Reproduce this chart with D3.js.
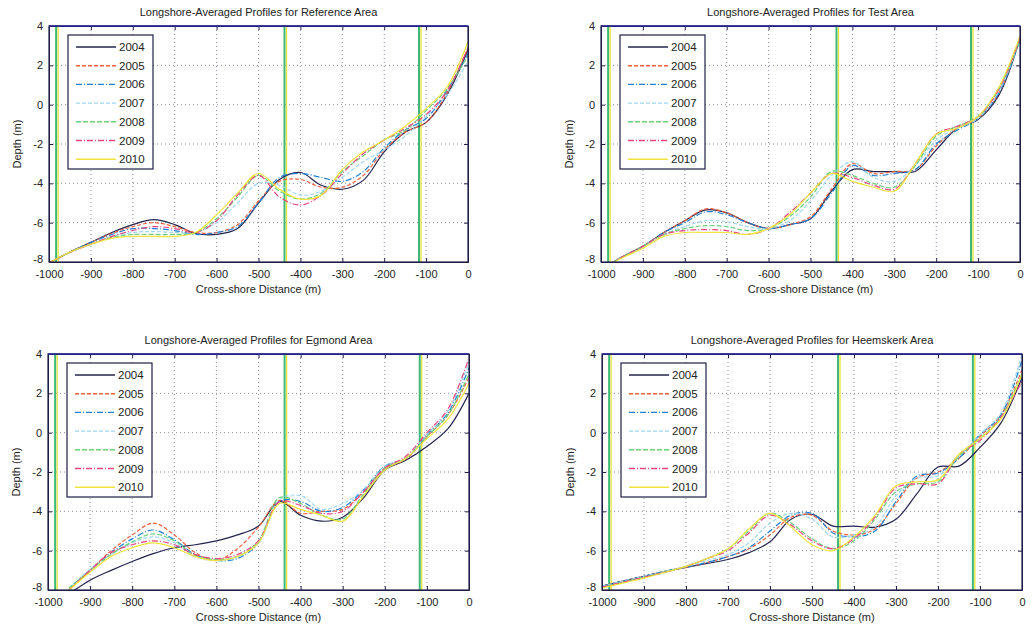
<!DOCTYPE html>
<html>
<head>
<meta charset="utf-8">
<script src="https://cdn.jsdelivr.net/npm/d3@7"></script>
<style>
body { margin: 0; background: #fff; }
text { font-family: "Liberation Sans", Arial, sans-serif; fill: #222; }
</style>
</head>
<body>
<div id="chart"></div>
<script>
// cross-shore positions (m) shared by every profile
var distance = [-1000,-950,-900,-850,-800,-750,-700,-650,-600,-550,-500,-450,-400,-350,-300,-250,-200,-150,-100,-50,0];
var years = ['2004','2005','2006','2007','2008','2009','2010'];

// one row per year, depth (m) at each distance
var reference = [
	[-8.05,-7.5,-7.0,-6.5,-6.1,-5.85,-6.1,-6.55,-6.6,-6.3,-5.0,-3.8,-3.45,-4.1,-4.3,-3.85,-2.4,-1.4,-0.9,0.5,2.8],
	[-8.05,-7.5,-7.0,-6.55,-6.2,-6.0,-6.2,-6.5,-6.5,-6.1,-4.9,-3.9,-3.8,-4.2,-4.2,-3.6,-2.3,-1.4,-0.9,0.6,2.9],
	[-8.05,-7.5,-7.0,-6.6,-6.3,-6.3,-6.4,-6.6,-6.5,-6.2,-5.0,-3.7,-3.5,-3.7,-3.9,-3.4,-2.2,-1.3,-0.7,0.7,2.6],
	[-8.05,-7.5,-7.1,-6.7,-6.5,-6.45,-6.5,-6.5,-6.0,-5.0,-4.0,-4.1,-4.6,-4.4,-3.7,-2.9,-2.3,-1.6,-0.6,0.5,2.2],
	[-8.05,-7.5,-7.1,-6.75,-6.6,-6.6,-6.6,-6.5,-5.8,-4.7,-3.6,-4.4,-4.8,-4.5,-3.4,-2.6,-1.8,-1.3,-0.3,0.8,2.5],
	[-8.05,-7.5,-7.1,-6.7,-6.4,-6.2,-6.3,-6.5,-5.9,-4.6,-3.6,-4.7,-5.1,-4.6,-3.5,-2.5,-1.8,-1.2,-0.5,0.7,2.9],
	[-8.05,-7.5,-7.1,-6.8,-6.7,-6.7,-6.7,-6.5,-5.6,-4.5,-3.5,-4.3,-4.8,-4.6,-3.3,-2.4,-1.8,-1.1,-0.2,0.9,3.2]
];
var test = [
	[-8.4,-7.75,-7.2,-6.5,-5.9,-5.35,-5.5,-6.0,-6.3,-6.1,-5.8,-4.4,-3.3,-3.4,-3.4,-3.4,-2.3,-1.2,-0.75,0.5,3.4],
	[-8.4,-7.75,-7.2,-6.5,-5.9,-5.3,-5.5,-6.0,-6.3,-6.1,-5.7,-4.3,-3.0,-3.5,-3.4,-3.3,-2.1,-1.2,-0.7,0.6,3.4],
	[-8.4,-7.75,-7.2,-6.5,-6.0,-5.45,-5.6,-6.0,-6.3,-6.1,-5.8,-4.5,-3.1,-3.6,-3.5,-3.3,-2.0,-1.3,-0.7,0.6,3.3],
	[-8.4,-7.75,-7.2,-6.6,-6.2,-5.9,-5.95,-6.2,-6.3,-5.9,-4.9,-3.6,-2.9,-3.7,-3.9,-3.1,-1.8,-1.2,-0.7,0.7,3.3],
	[-8.4,-7.75,-7.2,-6.6,-6.3,-6.15,-6.2,-6.4,-6.3,-5.7,-4.7,-3.4,-3.6,-4.0,-4.2,-3.1,-1.6,-1.1,-0.6,0.8,3.3],
	[-8.4,-7.75,-7.2,-6.6,-6.4,-6.35,-6.4,-6.6,-6.3,-5.5,-4.5,-3.5,-3.7,-4.1,-4.3,-3.0,-1.5,-1.1,-0.6,0.8,3.4],
	[-8.4,-7.8,-7.3,-6.7,-6.5,-6.5,-6.5,-6.6,-6.3,-5.6,-4.5,-3.5,-3.9,-4.2,-4.4,-3.0,-1.5,-1.2,-0.6,0.9,3.5]
];
var egmond = [
	[null,-8.2,-7.5,-7.0,-6.55,-6.15,-5.85,-5.7,-5.5,-5.2,-4.75,-3.5,-4.2,-4.5,-4.3,-3.3,-1.9,-1.4,-0.7,0.2,2.0],
	[null,-8.0,-7.0,-6.0,-5.2,-4.6,-5.2,-6.1,-6.5,-5.9,-4.8,-3.45,-4.1,-4.0,-3.9,-3.0,-1.8,-1.35,-0.2,0.9,2.8],
	[null,-8.0,-7.0,-6.1,-5.4,-4.95,-5.45,-6.2,-6.5,-6.4,-5.6,-3.5,-3.5,-4.0,-3.8,-2.9,-1.7,-1.3,-0.1,1.0,3.3],
	[null,-7.9,-6.95,-6.2,-5.6,-5.3,-5.6,-6.3,-6.5,-6.3,-5.6,-3.4,-3.2,-3.9,-3.6,-2.9,-1.7,-1.3,-0.1,1.1,3.6],
	[null,-7.9,-7.0,-6.2,-5.55,-5.15,-5.5,-6.25,-6.45,-6.3,-5.5,-3.3,-3.6,-4.2,-4.4,-3.1,-1.8,-1.3,-0.2,0.9,3.0],
	[null,-8.0,-7.0,-6.1,-5.7,-5.5,-5.7,-6.2,-6.4,-6.2,-5.5,-3.5,-3.7,-4.1,-4.0,-3.0,-1.8,-1.2,0.0,1.2,3.8],
	[null,-8.0,-7.1,-6.3,-5.85,-5.6,-5.85,-6.3,-6.5,-6.3,-5.6,-3.6,-3.9,-4.2,-4.5,-3.2,-1.9,-1.3,-0.3,0.7,2.5]
];
var heemskerk = [
	[-7.8,-7.55,-7.3,-7.05,-6.85,-6.65,-6.45,-6.1,-5.55,-4.4,-4.15,-4.75,-4.75,-4.8,-4.4,-3.1,-1.75,-1.7,-0.75,0.5,2.8],
	[-7.8,-7.55,-7.3,-7.05,-6.85,-6.6,-6.3,-5.9,-5.2,-4.3,-4.2,-5.0,-5.2,-4.9,-3.6,-2.3,-2.0,-1.3,-0.2,0.9,3.2],
	[-7.8,-7.55,-7.3,-7.05,-6.85,-6.6,-6.3,-5.85,-5.0,-4.2,-4.1,-5.1,-5.3,-5.0,-3.5,-2.2,-2.05,-1.3,-0.1,0.9,3.7],
	[-7.8,-7.55,-7.3,-7.05,-6.8,-6.5,-6.2,-5.6,-4.6,-4.1,-4.4,-5.3,-5.2,-4.8,-3.2,-2.3,-2.2,-1.2,-0.1,1.0,4.0],
	[-7.85,-7.6,-7.35,-7.1,-6.8,-6.4,-5.9,-5.0,-4.1,-4.6,-5.4,-5.9,-5.5,-4.4,-3.0,-2.6,-2.5,-1.2,-0.3,0.8,3.0],
	[-7.85,-7.6,-7.35,-7.1,-6.8,-6.4,-6.0,-5.1,-4.2,-4.7,-5.5,-5.9,-5.4,-4.3,-2.8,-2.6,-2.6,-1.1,-0.4,0.8,2.6],
	[-7.9,-7.65,-7.4,-7.1,-6.8,-6.4,-5.9,-4.9,-4.1,-4.8,-5.7,-6.0,-5.3,-4.2,-2.7,-2.5,-2.4,-1.1,-0.3,0.7,3.0]
];

var boundaries = [-983, -438, -117];
var xTicks = d3.range(-1000, 1, 100);
var yTicks = [-8, -6, -4, -2, 0, 2, 4];

var colors = ['#23234f','#f0603c','#1c7fd2','#9fd6ee','#6ccf7a','#e8457f','#f0e43a'];
var dashes = ['none','4,2','6,2,1,2','4,2','5,2','6,2,1,2','none'];

var panels = [
	{title: 'Longshore-Averaged Profiles for Reference Area', rows: reference, left: 49, top: 26, w: 419, h: 236},
	{title: 'Longshore-Averaged Profiles for Test Area', rows: test, left: 601, top: 26, w: 419, h: 236},
	{title: 'Longshore-Averaged Profiles for Egmond Area', rows: egmond, left: 48, top: 354, w: 421, h: 236},
	{title: 'Longshore-Averaged Profiles for Heemskerk Area', rows: heemskerk, left: 602, top: 354, w: 420, h: 236}
];

// plain hyphen minus like the original figure
var plain = function(d) { return String(d); };

var svg = d3.select('#chart').append('svg')
	.attr('width', 1033)
	.attr('height', 629)
	.style('background', '#fff');

panels.forEach(function(p, k) {
	var x = d3.scaleLinear().domain([-1000, 0]).range([0, p.w]);
	var y = d3.scaleLinear().domain([-8, 4]).range([p.h, 0]);

	var g = svg.append('g')
		.attr('transform', 'translate(' + p.left + ',' + p.top + ')');

	g.append('clipPath').attr('id', 'clip' + k)
		.append('rect').attr('width', p.w).attr('height', p.h);

	// dotted grid
	g.append('g').selectAll('line').data(xTicks.slice(1, -1))
		.enter().append('line')
		.attr('x1', function(d) { return x(d); })
		.attr('x2', function(d) { return x(d); })
		.attr('y1', 0).attr('y2', p.h)
		.attr('stroke', '#8c90a8').attr('stroke-width', 1)
		.attr('stroke-dasharray', '1,3');
	g.append('g').selectAll('line').data(yTicks.slice(1, -1))
		.enter().append('line')
		.attr('y1', function(d) { return y(d); })
		.attr('y2', function(d) { return y(d); })
		.attr('x1', 0).attr('x2', p.w)
		.attr('stroke', '#8c90a8').attr('stroke-width', 1)
		.attr('stroke-dasharray', '1,3');

	// boundary lines
	var bl = g.append('g');
	bl.selectAll('.gr').data(boundaries).enter().append('line')
		.attr('x1', function(d) { return x(d); })
		.attr('x2', function(d) { return x(d); })
		.attr('y1', 0).attr('y2', p.h)
		.attr('stroke', '#3cb878').attr('stroke-width', 2);
	bl.selectAll('.ye').data(boundaries).enter().append('line')
		.attr('x1', function(d) { return x(d) + 2; })
		.attr('x2', function(d) { return x(d) + 2; })
		.attr('y1', 0).attr('y2', p.h)
		.attr('stroke', '#e8e23a').attr('stroke-width', 1.3);

	var line = d3.line()
		.defined(function(d) { return d[1] != null; })
		.x(function(d) { return x(d[0]); })
		.y(function(d) { return y(d[1]); })
		.curve(d3.curveCatmullRom);

	g.append('g').attr('clip-path', 'url(#clip' + k + ')')
		.selectAll('path').data(p.rows)
		.enter().append('path')
		.attr('d', function(row) {
			return line(row.map(function(v, i) { return [distance[i], v]; }));
		})
		.attr('fill', 'none')
		.attr('stroke', function(d, i) { return colors[i]; })
		.attr('stroke-width', 1.2)
		.attr('stroke-dasharray', function(d, i) { return dashes[i]; });

	// axes, ticks inward on all four sides
	var xb = d3.axisBottom(x).tickValues(xTicks).tickFormat(plain).tickSizeInner(-4).tickSizeOuter(0).tickPadding(8);
	var yl = d3.axisLeft(y).tickValues(yTicks).tickFormat(plain).tickSizeInner(-4).tickSizeOuter(0).tickPadding(6);
	var xt = d3.axisTop(x).tickValues(xTicks).tickSizeInner(-4).tickSizeOuter(0).tickFormat('');
	var yr = d3.axisRight(y).tickValues(yTicks).tickSizeInner(-4).tickSizeOuter(0).tickFormat('');

	var axes = [
		g.append('g').attr('transform', 'translate(0,' + p.h + ')').call(xb),
		g.append('g').call(yl),
		g.append('g').call(xt),
		g.append('g').attr('transform', 'translate(' + p.w + ',0)').call(yr)
	];
	axes.forEach(function(a) {
		a.selectAll('path,line').attr('stroke', '#1e1e46');
		a.selectAll('text').style('font-size', '11px').attr('fill', '#222')
			.style('font-family', '"Liberation Sans", Arial, sans-serif');
	});
	// lift the bottom depth label a little so it clears the -1000 label
	axes[1].selectAll('.tick text').filter(function(d) { return d === -8; })
		.attr('dy', '0.05em');

	g.append('rect')
		.attr('width', p.w).attr('height', p.h)
		.attr('fill', 'none').attr('stroke', '#1e1e46').attr('stroke-width', 1.2);
	g.append('line').attr('x1', 0).attr('x2', p.w).attr('y1', 0).attr('y2', 0)
		.attr('stroke', '#2a2a9a').attr('stroke-width', 1.5);

	// labels
	g.append('text').attr('x', p.w / 2).attr('y', -10)
		.attr('text-anchor', 'middle').style('font-size', '11px')
		.text(p.title);
	g.append('text').attr('x', p.w / 2).attr('y', p.h + 31)
		.attr('text-anchor', 'middle').style('font-size', '11px')
		.text('Cross-shore Distance (m)');
	g.append('text')
		.attr('transform', 'translate(' + (-28) + ',' + (p.h / 2) + ') rotate(-90)')
		.attr('text-anchor', 'middle').style('font-size', '11px')
		.text('Depth (m)');

	// legend
	var lg = g.append('g').attr('transform', 'translate(' + 19 + ',' + 9 + ')');
	lg.append('rect').attr('width', 85).attr('height', 134)
		.attr('fill', '#fff').attr('stroke', '#1e1e46').attr('stroke-width', 1.2);
	var items = lg.selectAll('.item').data(years).enter().append('g')
		.attr('transform', function(d, i) { return 'translate(0,' + (12 + i * 18.7) + ')'; });
	items.append('line')
		.attr('x1', 8).attr('x2', 48).attr('y1', 0).attr('y2', 0)
		.attr('stroke', function(d, i) { return colors[i]; })
		.attr('stroke-width', 1.4)
		.attr('stroke-dasharray', function(d, i) { return dashes[i]; });
	items.append('text').attr('x', 51).attr('y', 4)
		.style('font-size', '11.5px')
		.text(function(d) { return d; });
});
</script>
</body>
</html>
